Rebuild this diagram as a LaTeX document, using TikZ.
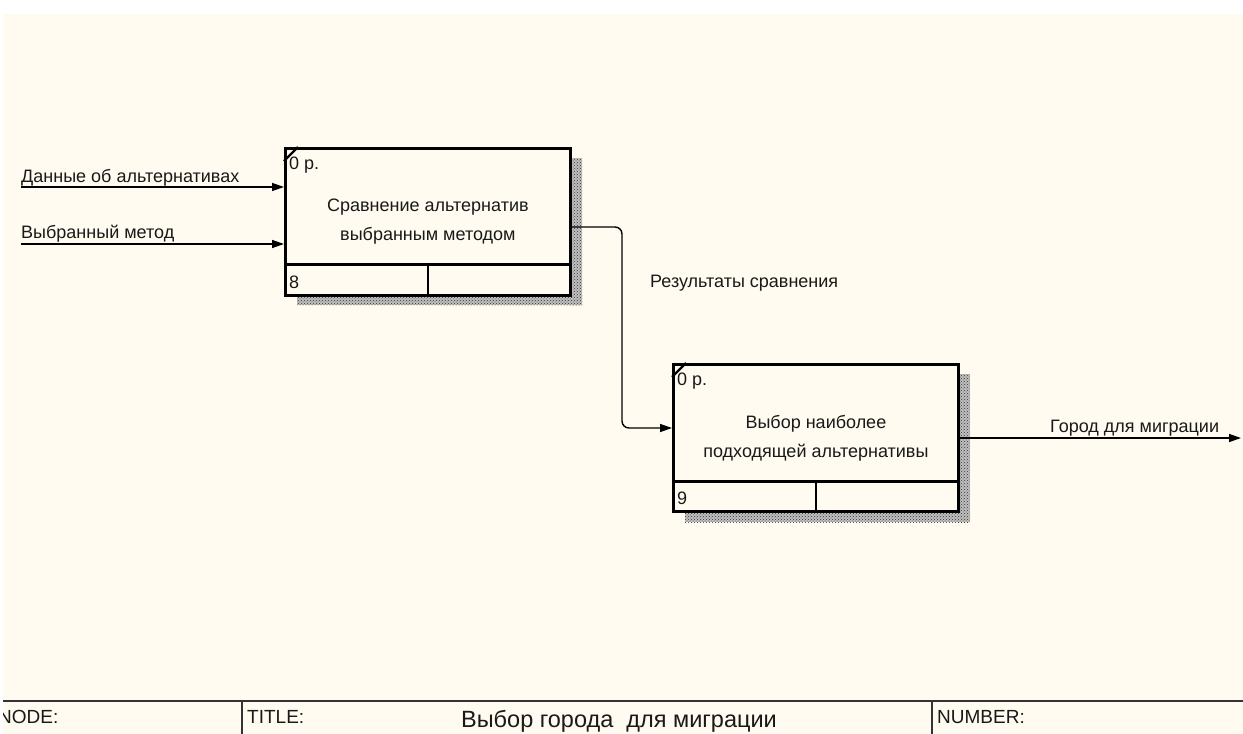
\documentclass[tikz,border=0pt]{standalone}
\usepackage{fontspec}
\setmainfont{Liberation Sans}
\usetikzlibrary{arrows.meta,patterns,calc}
\definecolor{cream}{RGB}{255,251,240}
\definecolor{ink}{RGB}{25,25,25}
\tikzset{
  funcbox/.style={draw=black, line width=2.8pt, fill=cream, rectangle, minimum width=285pt, minimum height=147pt, anchor=north west, inner sep=0pt},
  shadowfill/.style={fill=black!25, postaction={pattern=crosshatch dots, pattern color=black!80}},
  divline/.style={line width=2.8pt},
  flow/.style={draw=black, line width=1.4pt, -{Triangle[length=12pt,width=8pt]}},
  lbl/.style={font=\fontsize{18}{21}\selectfont, text=ink, inner sep=0pt},
  boxtxt/.style={font=\fontsize{18}{29}\selectfont, text=ink, align=center, inner sep=0pt},
  foot/.style={font=\fontsize{19}{22}\selectfont, text=ink, inner sep=0pt, anchor=base west},
  cornerline/.style={line width=2.2pt}
}
\begin{document}
\begin{tikzpicture}[x=1pt,y=-1pt]
\useasboundingbox (0,0) rectangle (1243,734);
\fill[white] (0,0) rectangle (1243,734);
\fill[cream] (3,14) rectangle (1243,734);

% shadows
\fill[shadowfill] (582,158) rectangle (570,305);
\fill[shadowfill] (297,295) rectangle (582,305);
\fill[shadowfill] (970,374) rectangle (958,522);
\fill[shadowfill] (685,512) rectangle (970,522);

% box 1
\node[funcbox] (b1) at (284,147) {};
\node[boxtxt] (t1) at (b1.center) {Сравнение альтернатив\\выбранным методом};
\draw[divline] ($(b1.south west)+(0,-32)$) -- ($(b1.south east)+(0,-32)$);
\draw[divline] ($(b1.south west)+(144,-32)$) -- ($(b1.south west)+(144,0)$);
\draw[cornerline] ($(b1.north west)+(0,14)$) -- ($(b1.north west)+(14,0)$);
\node[lbl, anchor=base west] (n1) at ($(b1.north west)+(5,22)$) {0 р.};
\node[lbl, anchor=base west] (k1) at ($(b1.south west)+(5,-8)$) {8};

% box 2
\node[funcbox] (b2) at (672,363) {};
\node[boxtxt] (t2) at (b2.center) {Выбор наиболее\\подходящей альтернативы};
\draw[divline] ($(b2.south west)+(0,-31)$) -- ($(b2.south east)+(0,-31)$);
\draw[divline] ($(b2.south west)+(144,-31)$) -- ($(b2.south west)+(144,0)$);
\draw[cornerline] ($(b2.north west)+(0,14)$) -- ($(b2.north west)+(14,0)$);
\node[lbl, anchor=base west] (n2) at ($(b2.north west)+(5,22)$) {0 р.};
\node[lbl, anchor=base west] (k2) at ($(b2.south west)+(5,-8)$) {9};

% inputs
\coordinate (in1) at (21,187);
\coordinate (in2) at (21,244);
\draw[flow] (in1) -- (in1 -| b1.west);
\draw[flow] (in2) -- (in2 -| b1.west);
\node[lbl, anchor=base west] (l1) at (21,182) {Данные об альтернативах};
\node[lbl, anchor=base west] (l2) at (21,238) {Выбранный метод};

% connector b1 -> b2
\coordinate (o1) at ($(b1.north east)+(0,80)$);
\coordinate (i2) at ($(b2.north west)+(0,65)$);
\draw[flow, rounded corners=7pt] (o1) -- (622,227) -- (622,428) -- (i2);
\node[lbl, anchor=base west] (l3) at (650,287) {Результаты сравнения};

% output
\coordinate (out) at (1241,438);
\draw[flow] (b2.east |- out) -- (out);
\node[lbl, anchor=base west] (l4) at (1050,432) {Город для миграции};

% footer
\draw[line width=1.4pt, draw=black!80] (3,701) -- (1243,701);
\draw[line width=1.4pt, draw=black!80] (242,701) -- (242,734);
\draw[line width=1.4pt, draw=black!80] (932,701) -- (932,734);
\begin{scope}
\clip (3,701) rectangle (242,734);
\node[foot] (fn) at (-2,723) {NODE:};
\end{scope}
\node[foot] (ft) at (247,723) {TITLE:};
\node[foot] (fnum) at (937,723) {NUMBER:};
\node[font=\fontsize{23.5}{26}\selectfont, text=ink, inner sep=0pt, anchor=base] (title) at (619,727) {Выбор города\ \ для миграции};
\end{tikzpicture}
\end{document}
